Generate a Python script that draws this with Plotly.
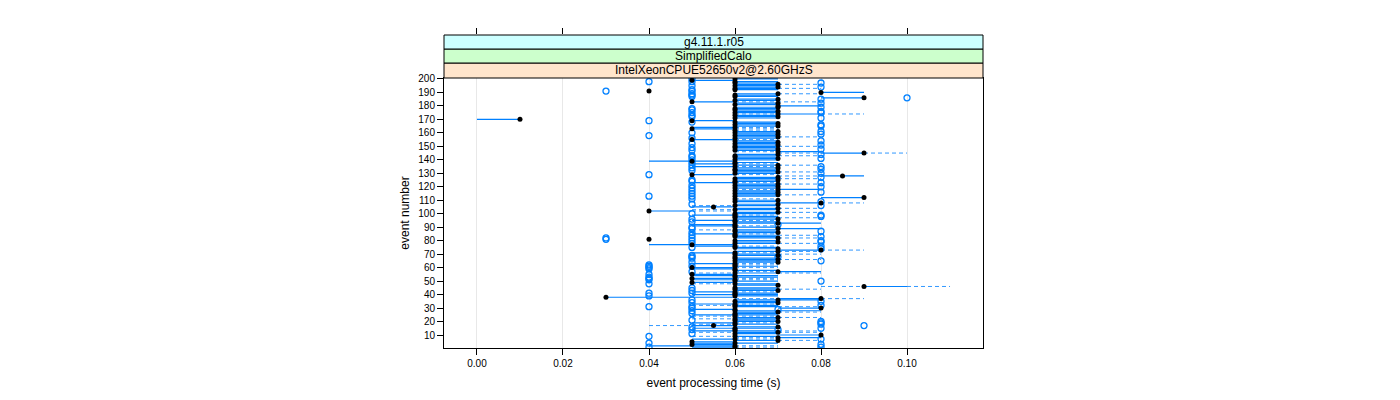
import plotly.graph_objects as go

# ---------------- data (times in milliseconds) ----------------
events = list(range(1, 201))

median_ms = [
    60, 60, 50, 60, 50, 70, 60, 70, 60, 80,
    60, 70, 60, 60, 60, 70, 55, 60, 60, 70,
    60, 60, 70, 60, 60, 60, 70, 60, 60, 80,
    60, 60, 60, 70, 60, 70, 80, 30, 60, 60,
    60, 60, 70, 60, 60, 90, 70, 60, 50, 60,
    60, 50, 60, 60, 50, 60, 70, 60, 60, 50,
    60, 60, 60, 70, 60, 70, 60, 60, 70, 60,
    60, 70, 80, 70, 60, 60, 50, 60, 70, 60,
    40, 70, 60, 60, 60, 70, 60, 60, 70, 60,
    60, 60, 70, 60, 60, 70, 60, 60, 60, 60,
    70, 40, 60, 70, 55, 60, 70, 80, 60, 70,
    60, 90, 60, 70, 60, 70, 60, 70, 60, 70,
    60, 70, 60, 60, 70, 60, 70, 85, 50, 60,
    70, 60, 60, 70, 60, 70, 60, 60, 50, 60,
    70, 60, 60, 70, 90, 70, 60, 70, 60, 60,
    70, 60, 70, 60, 50, 60, 70, 60, 70, 60,
    70, 60, 50, 60, 70, 60, 70, 60, 50, 10,
    60, 70, 60, 70, 60, 70, 60, 60, 70, 70,
    60, 70, 50, 60, 70, 90, 60, 60, 70, 80,
    40, 60, 60, 70, 60, 70, 60, 60, 50, 60,
]

q1_ms = [
    50, 40, 50, 50, 50, 60, 50, 70, 60, 70,
    60, 60, 50, 60, 50, 60, 50, 60, 50, 60,
    60, 60, 60, 60, 50, 60, 60, 60, 50, 70,
    60, 60, 50, 60, 60, 60, 70, 30, 60, 50,
    60, 50, 60, 60, 60, 90, 60, 60, 50, 60,
    50, 50, 60, 50, 50, 60, 70, 60, 50, 50,
    60, 60, 50, 60, 60, 60, 60, 60, 60, 60,
    50, 60, 70, 60, 60, 50, 40, 60, 60, 60,
    40, 60, 60, 60, 50, 60, 60, 60, 70, 60,
    50, 50, 60, 60, 50, 60, 60, 60, 50, 60,
    60, 40, 60, 60, 50, 60, 60, 70, 60, 60,
    60, 80, 60, 60, 60, 60, 60, 70, 60, 60,
    60, 60, 50, 60, 60, 60, 60, 80, 50, 60,
    60, 60, 60, 60, 50, 60, 50, 60, 40, 60,
    60, 60, 60, 60, 80, 70, 60, 60, 60, 60,
    60, 60, 60, 60, 50, 60, 60, 60, 60, 60,
    60, 60, 50, 50, 60, 60, 60, 60, 50, 0,
    60, 60, 60, 70, 60, 60, 60, 60, 60, 70,
    60, 60, 50, 60, 60, 80, 60, 60, 60, 80,
    40, 60, 60, 60, 60, 60, 60, 60, 50, 60,
]

q3_ms = [
    60, 60, 60, 70, 60, 70, 60, 80, 70, 80,
    70, 70, 70, 60, 70, 70, 60, 70, 60, 70,
    70, 70, 70, 60, 70, 70, 70, 80, 60, 80,
    70, 70, 60, 70, 70, 80, 80, 60, 70, 70,
    70, 60, 70, 70, 70, 100, 70, 70, 60, 70,
    60, 60, 70, 70, 60, 70, 80, 70, 60, 60,
    70, 60, 60, 70, 70, 70, 70, 60, 70, 70,
    60, 70, 80, 70, 70, 60, 60, 70, 70, 70,
    40, 70, 70, 70, 60, 70, 70, 70, 80, 70,
    60, 60, 80, 70, 60, 70, 70, 70, 60, 70,
    70, 50, 70, 70, 60, 70, 70, 80, 70, 70,
    60, 90, 70, 70, 70, 70, 70, 80, 70, 70,
    70, 70, 60, 70, 70, 70, 70, 90, 60, 70,
    70, 70, 70, 70, 60, 70, 60, 70, 60, 70,
    70, 70, 70, 70, 90, 80, 70, 70, 70, 70,
    70, 70, 70, 70, 60, 70, 70, 70, 70, 70,
    70, 60, 60, 60, 70, 70, 70, 70, 60, 10,
    70, 70, 70, 80, 70, 70, 70, 70, 70, 80,
    70, 70, 60, 70, 70, 90, 70, 70, 70, 90,
    40, 70, 70, 70, 70, 70, 70, 70, 60, 70,
]

whisk_lo_ms = [
    50, 40, 50, 50, 50, 60, 50, 60, 50, 70,
    60, 50, 50, 60, 50, 60, 40, 50, 50, 60,
    60, 50, 60, 50, 50, 60, 60, 60, 50, 70,
    60, 50, 50, 60, 60, 60, 60, 30, 60, 50,
    60, 50, 60, 60, 60, 80, 60, 50, 50, 60,
    50, 50, 60, 50, 50, 50, 60, 60, 50, 50,
    60, 60, 50, 60, 60, 60, 60, 60, 60, 60,
    50, 60, 70, 60, 60, 50, 40, 60, 60, 60,
    40, 60, 60, 60, 50, 60, 60, 50, 70, 60,
    50, 50, 60, 60, 50, 60, 60, 60, 50, 60,
    60, 40, 50, 60, 50, 50, 60, 70, 60, 60,
    60, 80, 60, 60, 60, 60, 60, 60, 60, 60,
    60, 60, 50, 60, 60, 60, 60, 70, 50, 60,
    60, 60, 60, 60, 50, 60, 50, 60, 40, 60,
    60, 60, 60, 60, 70, 60, 60, 60, 60, 60,
    60, 60, 60, 60, 50, 60, 60, 60, 60, 60,
    60, 60, 50, 50, 60, 60, 60, 60, 50, 0,
    60, 60, 60, 60, 60, 60, 60, 60, 60, 70,
    60, 60, 50, 60, 60, 80, 60, 60, 60, 80,
    40, 60, 60, 60, 60, 60, 60, 60, 50, 60,
]

whisk_hi_ms = [
    70, 70, 60, 70, 60, 80, 70, 80, 70, 80,
    70, 80, 80, 60, 70, 70, 60, 70, 70, 70,
    70, 70, 80, 70, 70, 70, 80, 80, 60, 80,
    80, 70, 70, 70, 70, 80, 90, 60, 70, 70,
    70, 70, 70, 80, 70, 110, 70, 70, 60, 70,
    70, 70, 70, 70, 60, 80, 80, 70, 60, 70,
    70, 70, 70, 70, 70, 80, 70, 60, 70, 80,
    70, 80, 90, 70, 70, 70, 60, 80, 70, 70,
    40, 80, 70, 80, 70, 70, 70, 70, 80, 70,
    70, 60, 80, 70, 70, 70, 80, 70, 70, 70,
    80, 60, 70, 80, 60, 70, 70, 90, 70, 70,
    70, 90, 70, 80, 70, 70, 70, 80, 70, 70,
    70, 80, 70, 70, 70, 80, 70, 90, 70, 70,
    80, 70, 70, 70, 70, 80, 70, 70, 60, 70,
    70, 70, 80, 70, 100, 80, 70, 70, 70, 80,
    70, 70, 70, 70, 70, 70, 80, 70, 70, 70,
    70, 70, 70, 70, 70, 70, 70, 70, 60, 10,
    70, 70, 70, 90, 70, 70, 70, 70, 70, 80,
    70, 70, 80, 70, 70, 90, 70, 70, 80, 90,
    40, 70, 80, 70, 70, 80, 70, 70, 60, 70,
]

outlier_event = [
    1, 1, 3, 4, 7, 9, 11, 14, 14, 15, 16, 17, 18, 19, 20, 21, 26, 28, 29, 30,
    31, 31, 32, 34, 35, 36, 39, 41, 41, 43, 45, 48, 50,
    51, 52, 53, 55, 57, 59, 60, 61, 61, 62, 64, 65, 67, 68, 68, 69, 74, 75,
    76, 78, 79, 80, 80, 81, 82, 82, 83, 84, 86, 87, 89, 90, 92, 94, 96, 98,
    99, 100,
    106, 107, 109, 111, 113, 113, 115, 116, 117, 119, 120, 121, 123, 124, 125,
    127, 129, 130, 132, 133, 134, 135, 136, 138, 140, 141, 142, 143, 144, 147,
    148, 149,
    151, 152, 154, 156, 158, 159, 160, 161, 165, 166, 168, 169, 171, 172, 173,
    175, 175, 176, 177, 178, 179, 182, 185, 186, 187, 188, 189, 191, 191, 192,
    194, 195, 197, 198, 198, 200,
]
outlier_ms = [
    40, 80, 80, 40, 80, 40, 50, 50, 70, 80, 50, 90, 80, 80, 80, 50, 50, 50, 70, 50,
    40, 50, 80, 50, 80, 50, 40, 40, 50, 50, 50, 40, 80,
    40, 40, 40, 40, 50, 40, 40, 40, 50, 40, 50, 80, 50, 50, 70, 50, 80, 50,
    80, 50, 80, 50, 80, 30, 30, 50, 80, 50, 50, 80, 50, 50, 70, 50, 50, 80,
    80, 50,
    80, 50, 80, 50, 40, 50, 50, 80, 50, 50, 80, 50, 80, 50, 50,
    80, 40, 80, 50, 80, 50, 80, 50, 50, 50, 80, 50, 50, 80, 50,
    80, 50,
    80, 50, 80, 50, 40, 80, 50, 80, 80, 80, 50, 40, 80, 50, 50,
    50, 80, 80, 50, 50, 80, 80, 80, 100, 50, 50, 50, 30, 50, 50,
    80, 50, 80, 40, 50, 50,
]

x_tick_values = [0.00, 0.02, 0.04, 0.06, 0.08, 0.10]
x_tick_labels = ["0.00", "0.02", "0.04", "0.06", "0.08", "0.10"]
y_tick_values = list(range(10, 201, 10))
strip_labels = ["IntelXeonCPUE52650v2@2.60GHzS", "SimplifiedCalo", "g4.11.1.r05"]
strip_colors = ["#FFE5CC", "#CCFFCC", "#CCFFFF"]

# ---------------- build marks ----------------
def sec(v):
    return v / 1000.0

box_x, box_y, wh_x, wh_y = [], [], [], []
for e, a, b, lo, hi in zip(events, q1_ms, q3_ms, whisk_lo_ms, whisk_hi_ms):
    if b > a:
        box_x += [sec(a), sec(b), None]
        box_y += [e, e, None]
    if lo < a:
        wh_x += [sec(lo), sec(a), None]
        wh_y += [e, e, None]
    if hi > b:
        wh_x += [sec(b), sec(hi), None]
        wh_y += [e, e, None]

BLUE = "#0080FF"
FONT = "Liberation Sans, Arial, sans-serif"

fig = go.Figure()
fig.add_trace(go.Scatter(x=wh_x, y=wh_y, mode="lines",
                         line=dict(color=BLUE, width=1, dash="4px,3px"),
                         opacity=0.8, hoverinfo="skip", showlegend=False))
fig.add_trace(go.Scatter(x=box_x, y=box_y, mode="lines",
                         line=dict(color=BLUE, width=1.2),
                         hoverinfo="skip", showlegend=False))
fig.add_trace(go.Scatter(x=[sec(v) for v in outlier_ms], y=outlier_event, mode="markers",
                         marker=dict(symbol="circle-open", size=6, color=BLUE,
                                     line=dict(width=1.3, color=BLUE)),
                         showlegend=False))
fig.add_trace(go.Scatter(x=[sec(v) for v in median_ms], y=events, mode="markers",
                         marker=dict(symbol="circle", size=5, color="black"),
                         showlegend=False))
# helper trace so the top (strip) axis is drawn
fig.add_trace(go.Scatter(x=[0.05], y=[0.5], xaxis="x2", yaxis="y2", mode="markers",
                         marker=dict(opacity=0), hoverinfo="skip", showlegend=False))

# ---------------- layout ----------------
# page body has an 8px margin, so figure coordinates = screen coordinates - 8
OFF = 8
TOP, PANEL_TOP, BOTTOM = 35 - OFF, 78 - OFF, 348 - OFF
LEFT, RIGHT = 444 - OFF, 983 - OFF
H = BOTTOM - TOP


def py(px_screen):
    return (BOTTOM - (px_screen - OFF)) / H


panel_frac = (BOTTOM - PANEL_TOP) / H
XR = [-0.00767, 0.11767]

fig.update_layout(
    width=1400, height=400,
    margin=dict(l=LEFT, r=1400 - RIGHT, t=TOP, b=400 - BOTTOM),
    paper_bgcolor="white", plot_bgcolor="white",
    font=dict(family=FONT, color="black", size=10),
    xaxis=dict(domain=[0, 1], anchor="y", range=XR,
               tickvals=x_tick_values, ticktext=x_tick_labels,
               ticks="outside", ticklen=6, tickcolor="black", tickwidth=1,
               showline=True, linecolor="black", linewidth=1, mirror=True,
               showgrid=True, gridcolor="#E8E8E8", gridwidth=1, zeroline=False,
               tickfont=dict(size=10),
               title=dict(text="event processing time (s)", font=dict(size=12), standoff=10)),
    yaxis=dict(domain=[0, panel_frac], anchor="x", range=[0.35, 200.7],
               tickvals=y_tick_values, ticks="outside", ticklen=6,
               tickcolor="black", tickwidth=1,
               showline=True, linecolor="black", linewidth=1, mirror=True,
               showgrid=False, zeroline=False, tickfont=dict(size=10),
               title=dict(text="event number", font=dict(size=12), standoff=6)),
    xaxis2=dict(anchor="y2", matches="x", range=XR, side="top",
                tickvals=x_tick_values, ticks="outside", ticklen=6,
                tickcolor="black", showticklabels=False, showline=False,
                showgrid=False, zeroline=False),
    yaxis2=dict(domain=[panel_frac, 1], anchor="x2", range=[0, 1], visible=False),
)

strip_bounds = [(78, 63), (63, 49), (49, 35)]
for (b0, b1), lab, col in zip(strip_bounds, strip_labels, strip_colors):
    fig.add_shape(type="rect", xref="paper", yref="paper", x0=0, x1=1,
                  y0=py(b0), y1=py(b1), fillcolor=col,
                  line=dict(color="black", width=1), layer="above")
    fig.add_annotation(xref="paper", yref="paper", x=0.5, y=(py(b0) + py(b1)) / 2,
                       text=lab, showarrow=False, font=dict(size=12, color="black"),
                       xanchor="center", yanchor="middle")

fig.write_html("out.html")
